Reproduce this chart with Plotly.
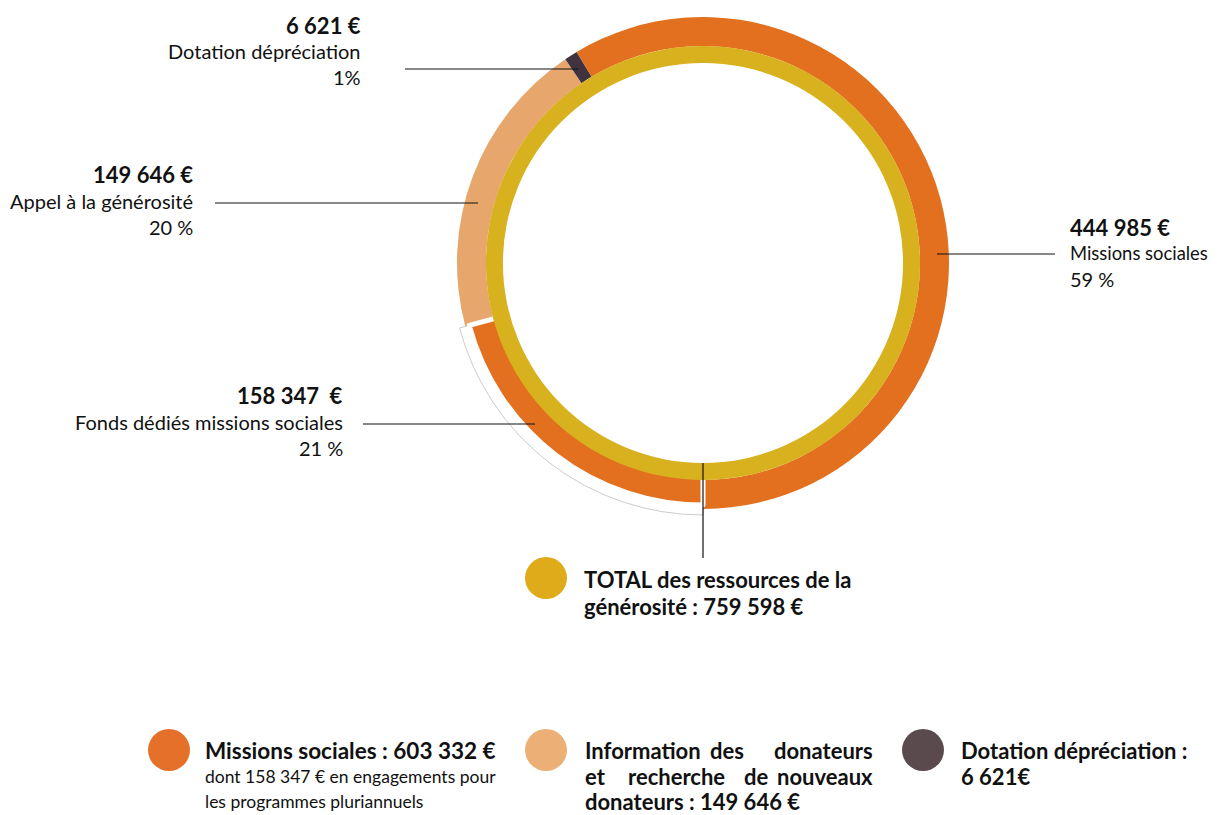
import plotly.graph_objects as go

# ---------------- data (clockwise order starting at 6 o'clock) ----------------
slice_labels = ["Fonds dédiés missions sociales", "Appel à la générosité", "Dotation dépréciation", "Missions sociales"]
slice_values = [158347, 149646, 6621, 444985]
slice_amounts = ["158 347  €", "149 646 €", "6 621 €", "444 985 €"]
slice_pcts = ["21 %", "20 %", "1%", "59 %"]
total_value = [759598]
total_label = ["TOTAL des ressources de la", "générosité : 759 598 €"]

legend_titles = ["Missions sociales : 603 332 €", "Dotation dépréciation :", "6 621€"]
legend_sub = ["dont 158 347 € en engagements pour", "les programmes pluriannuels"]
legend_info_lines = [["Information", "des", "donateurs"], ["et", "recherche", "de", "nouveaux"], ["donateurs : 149 646 €"]]

# ---------------- styling ----------------
OFF = 8  # browser body margin
W, H = 1219 - OFF, 815 - OFF
CX, CY = 703 - OFF, 263 - OFF
FONT = "Lato"
C_MISS = "#e2701f"
C_DOT = "#3f3340"
C_APP = "#e7a76c"
C_YEL = "#d8b11f"
CLEAR = "rgba(0,0,0,0)"


def px(x):
    return (x - OFF) / W


def py(y):
    return 1 - (y - OFF) / H


def dom(R):
    return dict(x=[(CX - R) / W, (CX + R) / W], y=[(H - CY - R) / H, (H - CY + R) / H])


common = dict(sort=False, direction="clockwise", rotation=180,
              textinfo="none", hoverinfo="label+value", showlegend=False)

fig = go.Figure()

# backing white band with hairline for the "fonds dédiés" slice
fig.add_trace(go.Pie(labels=slice_labels, values=slice_values, domain=dom(252), hole=210 / 252,
                     marker=dict(colors=["white", CLEAR, CLEAR, CLEAR],
                                 line=dict(color=["#cccccc", CLEAR, CLEAR, CLEAR], width=[1, 0, 0, 0])),
                     **common))
# main outer ring
fig.add_trace(go.Pie(labels=slice_labels, values=slice_values, domain=dom(246), hole=217 / 246,
                     marker=dict(colors=[CLEAR, C_APP, C_DOT, C_MISS], line=dict(width=0)),
                     **common))
# inset "fonds dédiés" slice
fig.add_trace(go.Pie(labels=slice_labels, values=slice_values, domain=dom(242), hole=212 / 242,
                     marker=dict(colors=[C_MISS, CLEAR, CLEAR, CLEAR],
                                 line=dict(color=["white", CLEAR, CLEAR, CLEAR], width=[5, 0, 0, 0])),
                     **common))
# inner total ring
fig.add_trace(go.Pie(labels=["TOTAL"], values=total_value, domain=dom(217), hole=200 / 217,
                     marker=dict(colors=[C_YEL], line=dict(width=0)), **common))

ann = []
shapes = []


def text(x, y, s, size=20, bold=False, anchor="left", color="#111"):
    ann.append(dict(x=px(x), y=py(y), xref="paper", yref="paper", text=("<b>%s</b>" % s) if bold else s,
                    showarrow=False, xanchor=anchor, yanchor="middle", borderpad=0,
                    font=dict(family=FONT, size=size, color=color)))


def line(x0, y0, x1, y1):
    shapes.append(dict(type="line", xref="paper", yref="paper", x0=px(x0), y0=py(y0), x1=px(x1), y1=py(y1),
                       line=dict(color="#111", width=1.2)))


def dot(x, y, r, color):
    shapes.append(dict(type="circle", xref="paper", yref="paper", xsizemode="pixel", ysizemode="pixel",
                       xanchor=px(x), yanchor=py(y), x0=-r, x1=r, y0=-r, y1=r,
                       fillcolor=color, line=dict(width=0)))


B = 22   # bold size
N = 20   # normal size

# callout layout per slice index: (text x, first line y, anchor, label size, leader line)
callouts = {
    2: (362, 25, "right", N, (405, 69, 578, 69)),
    1: (194, 175, "right", N, (215, 203, 478, 203)),
    0: (344, 396, "right", N, (363, 424, 535, 424)),
    3: (1069, 227, "left", 18.4, (937, 254, 1055, 254)),
}
for i, (tx, ty, an, ls, ln) in callouts.items():
    text(tx, ty, slice_amounts[i], B, True, an)
    text(tx, ty + 26, slice_labels[i], ls, False, an)
    text(tx, ty + 52, slice_pcts[i], N, False, an)
    line(*ln)

# total
line(703, 463, 703, 558)
dot(546, 578, 21, "#e0ab1b")
text(583, 579, total_label[0], B, True, "left")
text(583, 606, total_label[1], B, True, "left")

# legend
dot(169, 750, 21, "#e4702a")
text(204, 750, legend_titles[0], 22.5, True, "left")
text(204, 776, legend_sub[0], 17.5, False, "left")
text(204, 801, legend_sub[1], 17.5, False, "left")

dot(546, 750, 21, "#ecb077")
word_pos = [[(584, "left"), (727, "center"), (874, "right")],
            [(584, "left"), (676, "center"), (756, "center"), (874, "right")],
            [(584, "left")]]
for row, (words, poss) in enumerate(zip(legend_info_lines, word_pos)):
    yy = [750, 776, 801][row]
    for w, (xx, an) in zip(words, poss):
        text(xx, yy, w, B, True, an)

dot(923, 750, 21, "#5a4a4e")
text(960, 750, legend_titles[1], B, True, "left")
text(960, 776, legend_titles[2], B, True, "left")

fig.update_layout(width=W, height=H, margin=dict(l=0, r=0, t=0, b=0),
                  paper_bgcolor="white", plot_bgcolor="white",
                  annotations=ann, shapes=shapes)

fig.write_html("out.html")
